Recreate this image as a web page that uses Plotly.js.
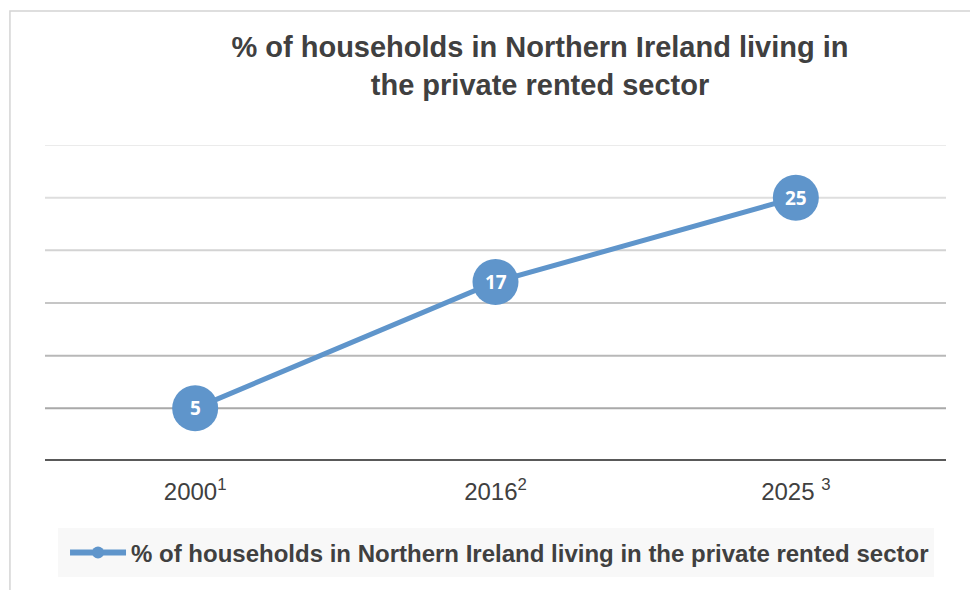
<!DOCTYPE html>
<html>
<head>
<meta charset="utf-8">
<script src="https://cdn.plot.ly/plotly-3.0.1.min.js"></script>
<style>
  html, body { margin: 0; padding: 0; background: #ffffff; }
  #chart { width: 970px; height: 590px; }
</style>
</head>
<body>
<div id="chart"></div>
<script>
const categories = ["2000<sup>1</sup>", "2016<sup>2</sup>", "2025 <sup>3</sup>"];
const values = [5, 17, 25];
const seriesName = "% of households in Northern Ireland living in the private rented sector";
const gridValues = [5, 10, 15, 20, 25, 30];
const gridColors = ["#a9a9a9", "#b8b8b8", "#c6c6c6", "#d3d3d3", "#dedede", "#ebebeb"];

const lineColor = "#5f95cb";
const textColor = "#404040";

const shapes = gridValues.map((v, i) => ({
  type: "line", xref: "paper", yref: "y", x0: 0, x1: 1, y0: v, y1: v,
  line: { color: gridColors[i], width: 2 }, layer: "below"
}));
// baseline
shapes.push({
  type: "line", xref: "paper", yref: "y", x0: 0, x1: 1, y0: 0, y1: 0,
  line: { color: "#595959", width: 4 }, layer: "below"
});
// outer chart border
shapes.push({
  type: "rect", xref: "paper", yref: "paper",
  x0: -0.0389, x1: 1.5, y0: -1, y1: 1.424,
  line: { color: "#d4d4d4", width: 1.5 }, layer: "below"
});
// legend background
shapes.push({
  type: "rect", xref: "paper", yref: "paper",
  x0: (58 - 45) / 900, x1: (933 - 45) / 900,
  y0: (461 - 577) / 316, y1: (461 - 528) / 316,
  fillcolor: "#f8f8f8", line: { width: 0 }, layer: "below"
});

const annotations = values.map((v, i) => ({
  x: categories[i], y: v, xref: "x", yref: "y",
  text: "<b>" + v + "</b>", showarrow: false,
  xanchor: "center", yanchor: "middle",
  font: { family: "Open Sans, Liberation Sans, sans-serif", size: 19, color: "#ffffff" }
}));

const traces = [
  {
    x: categories, y: values, type: "scatter", mode: "lines+markers",
    line: { color: lineColor, width: 5 },
    marker: { color: lineColor, size: 46 },
    showlegend: false, cliponaxis: false, hoverinfo: "skip"
  },
  {
    x: [categories[0]], y: [null], type: "scatter", mode: "lines+markers",
    name: "<b>" + seriesName + "</b>",
    line: { color: lineColor, width: 6 },
    marker: { color: lineColor, size: 12 },
    showlegend: true, hoverinfo: "skip"
  }
];

const layout = {
  width: 970, height: 590,
  margin: { l: 45, r: 24, t: 145, b: 129 },
  paper_bgcolor: "#ffffff", plot_bgcolor: "rgba(0,0,0,0)",
  font: { family: "Liberation Sans, Arial, sans-serif", color: textColor },
  title: {
    text: "<b>% of households in Northern Ireland living in<br>the private rented sector</b>",
    font: { family: "Liberation Sans, Arial, sans-serif", size: 29, color: textColor },
    xref: "container", x: 540 / 970, xanchor: "center",
    yref: "container", y: 1 - 57 / 590, yanchor: "middle"
  },
  xaxis: {
    type: "category", range: [-0.5, 2.5],
    showgrid: false, zeroline: false, showline: false, ticks: "",
    ticklabelstandoff: 14,
    tickfont: { size: 24, color: textColor }
  },
  yaxis: {
    range: [0, 30], showgrid: false, zeroline: false, showline: false,
    showticklabels: false, ticks: "", fixedrange: true
  },
  showlegend: true,
  legend: {
    orientation: "h", xref: "paper", yref: "paper",
    x: (65 - 45) / 900, xanchor: "left",
    y: (461 - 553) / 316, yanchor: "middle",
    bgcolor: "rgba(0,0,0,0)", borderwidth: 0,
    itemwidth: 56,
    font: { size: 24, color: textColor }
  },
  annotations: annotations,
  shapes: shapes
};

Plotly.newPlot("chart", traces, layout, { displayModeBar: false, staticPlot: true });
</script>
</body>
</html>
